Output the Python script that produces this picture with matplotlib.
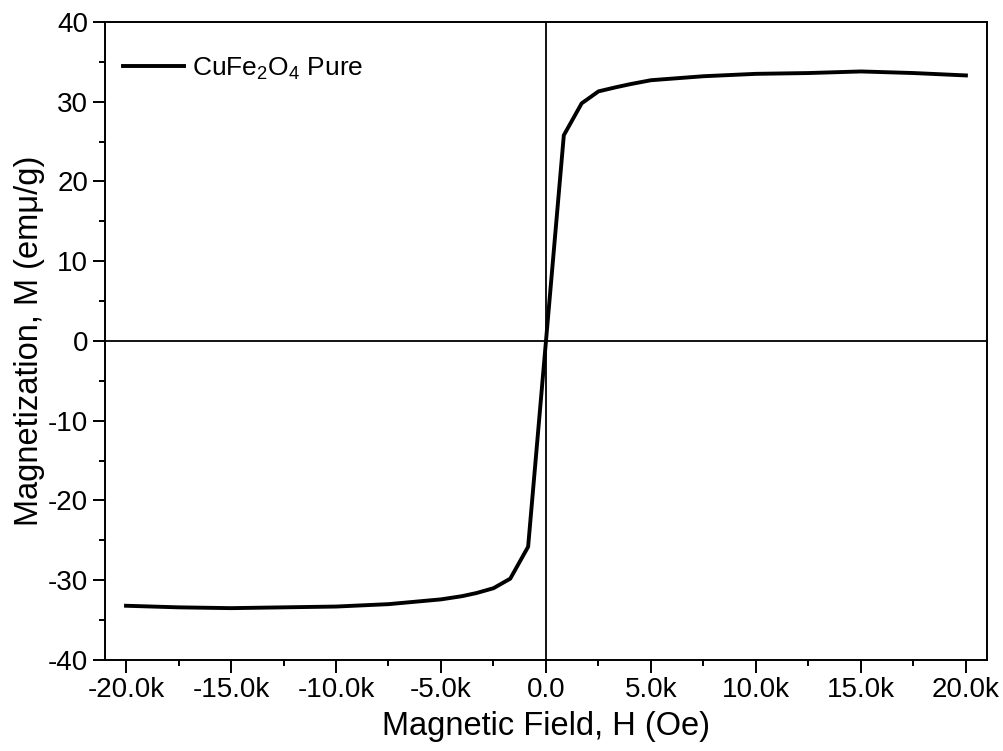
import matplotlib
matplotlib.use('Agg')
import matplotlib.pyplot as plt
from matplotlib.ticker import MultipleLocator, FuncFormatter

# field (Oe) and magnetization (emu/g)
field = [-20000, -17500, -15000, -12500, -10000, -7500, -5000, -4000, -3300, -2500,
         -1700, -850, 0, 850, 1700, 2500, 3300, 4000, 5000, 7500, 10000, 12500,
         15000, 17500, 20000]
magnetization = [-33.2, -33.4, -33.5, -33.4, -33.3, -33.0, -32.4, -32.0, -31.6, -31.0,
                 -29.8, -25.8, 0.0, 25.8, 29.8, 31.3, 31.8, 32.2, 32.7, 33.2, 33.5, 33.6,
                 33.8, 33.6, 33.3]
label = 'CuFe$_2$O$_4$ Pure'

plt.rcParams['font.family'] = ['Liberation Sans', 'DejaVu Sans']
plt.rcParams['mathtext.fontset'] = 'custom'
plt.rcParams['mathtext.rm'] = 'Liberation Sans'
plt.rcParams['axes.unicode_minus'] = False

fig = plt.figure(figsize=(10.04, 7.51), dpi=100)
ax = fig.add_axes([0.1046, 0.1212, 0.8784, 0.8495])

ax.axhline(0, color='black', lw=1.3, zorder=1)
ax.axvline(0, color='black', lw=1.3, zorder=1)
ax.plot(field, magnetization, color='black', lw=2.8, label=label, zorder=3)

ax.set_xlim(-21000, 21000)
ax.set_ylim(-40, 40)
ax.xaxis.set_major_locator(MultipleLocator(5000))
ax.xaxis.set_minor_locator(MultipleLocator(2500))
ax.yaxis.set_major_locator(MultipleLocator(10))
ax.yaxis.set_minor_locator(MultipleLocator(5))


def kfmt(v, pos):
    if abs(v) < 1e-9:
        return '0.0'
    return '%.1fk' % (v / 1000.0)


ax.xaxis.set_major_formatter(FuncFormatter(kfmt))
ax.tick_params(which='major', direction='out', length=9, width=1.4, labelsize=20, pad=3)
ax.tick_params(which='minor', direction='out', length=4.5, width=1.4)
for s in ax.spines.values():
    s.set_linewidth(1.4)

ax.set_xlabel('Magnetic Field, H (Oe)', fontsize=23.5, labelpad=6)
ax.set_ylabel('Magnetization, M (emμ/g)', fontsize=23.5, labelpad=2)

ax.legend(loc='upper left', bbox_to_anchor=(-0.006, 0.985), frameon=False,
          fontsize=19, handlelength=2.3, borderaxespad=0.5, handletextpad=0.3)

fig.savefig('out.png', dpi=100)
